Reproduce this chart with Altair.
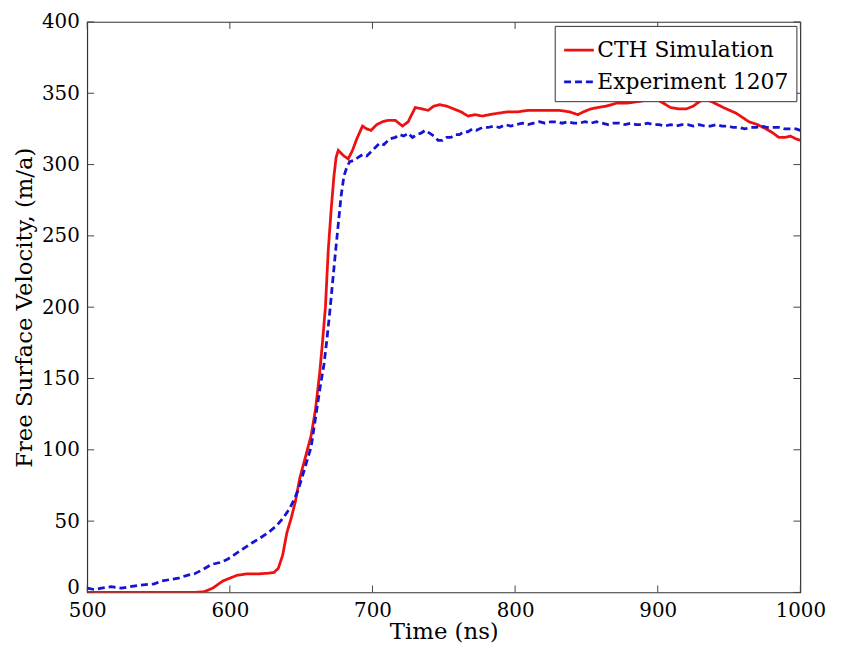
import altair as alt
import pandas as pd

# CTH Simulation (red solid)
cth_t = [500, 520, 540, 560, 575, 582, 588, 595, 600, 605, 612, 620, 627, 631, 634, 637,
         640, 643, 646, 649, 653, 657, 660, 663, 665, 667, 669, 671, 673, 674.5, 676, 678,
         680, 683, 686, 689, 693, 696, 699, 703, 707, 711, 716, 721, 725, 730, 735, 739,
         743, 747, 752, 757, 762, 767, 772, 777, 782, 788, 795, 802, 809, 816, 823, 831,
         838, 844, 848, 853, 858, 864, 871, 878, 885, 892, 899, 904, 909, 915, 920, 925,
         929, 933, 938, 946, 955, 964, 970, 976, 981, 985, 989, 993, 997, 1000]
cth_v = [0, 0, 0, 0, 0, 0.5, 3, 8, 10, 12, 13, 13, 13.5, 14, 17, 26,
         42, 52, 64, 80, 95, 110, 128, 154, 176, 200, 240, 268, 292, 305, 310, 308,
         306, 304, 310, 318, 327, 325, 324, 328, 330, 331, 331, 327, 330, 340, 339, 338,
         341, 342, 341, 339, 337, 334, 335, 334, 335, 336, 337, 337, 338, 338, 338, 338,
         337, 335, 337, 339, 340, 341, 343, 343, 344, 345, 346, 343, 340, 339, 339, 341,
         344, 346, 344, 340, 336, 330, 328, 325, 322, 319, 319, 320, 318, 317]

# Experiment 1207 (blue dashed)
exp_t = [500, 505, 510, 517, 524, 530, 536, 541, 547, 552, 558, 564, 570, 575, 581, 587,
         593, 598, 604, 610, 616, 621, 627, 633, 638, 642, 645, 648, 651, 654, 657, 660,
         663, 666, 668, 670, 672, 674, 676, 678, 680, 682, 684, 687, 690, 693, 696, 699,
         702, 705, 708, 712, 716, 719, 722, 725, 728, 731, 734, 737, 740, 743, 746, 749,
         752, 755, 758, 761, 764, 767, 770, 773, 777, 781, 785, 789, 793, 797, 801, 805,
         809, 813, 817, 821, 825, 829, 833, 837, 841, 845, 849, 853, 857, 861, 865, 869,
         873, 877, 881, 885, 889, 893, 897, 901, 905, 909, 913, 917, 921, 925, 929, 933,
         937, 941, 945, 949, 953, 957, 961, 965, 969, 973, 977, 981, 985, 989, 993, 997, 1000]
exp_v = [3, 2, 3, 4, 3, 4, 5, 5.5, 6, 8, 9, 10, 12, 13, 16, 19.6,
         21, 23, 27, 31, 35, 38, 42, 47, 53, 59, 65, 72, 82, 92, 102, 122,
         142, 160, 177, 196, 217, 238, 258, 278, 292, 298, 302, 303, 305, 307, 306, 309,
         312, 315, 314, 318, 319, 321, 320, 322, 319, 321, 322, 324, 322, 320, 317, 317,
         319, 319, 321, 321, 323, 323, 325, 324, 326, 326, 327, 326, 328, 327, 328, 329,
         328, 329, 330, 329, 330, 330, 329, 330, 329, 329, 330, 329, 330, 329, 328, 329,
         329, 328, 329, 328, 328, 329, 328, 328, 327, 328, 327, 328, 328, 327, 328, 327,
         327, 328, 327, 327, 326, 326, 325, 326, 326, 327, 326, 326, 326, 325, 325, 325, 324]

series_names = ["CTH Simulation", "Experiment 1207"]
x_ticks = [500, 600, 700, 800, 900, 1000]
y_ticks = [0, 50, 100, 150, 200, 250, 300, 350, 400]

df = pd.concat([
    pd.DataFrame({"t": cth_t, "v": cth_v, "series": series_names[0]}),
    pd.DataFrame({"t": exp_t, "v": exp_v, "series": series_names[1]}),
])
xt = pd.DataFrame({"t": x_ticks})
yt = pd.DataFrame({"v": y_ticks})

W, H = 720, 576
FONT = "DejaVu Serif"

xscale = alt.Scale(domain=[500, 1000], nice=False, zero=False)
yscale = alt.Scale(domain=[0, 400], nice=False)

axis_style = dict(ticks=False, domain=False, grid=False, format="d",
                  labelFont=FONT, labelFontSize=20, labelColor="black",
                  titleFont=FONT, titleFontSize=23, titleColor="black",
                  titleFontWeight="normal")

lines = alt.Chart(df).mark_line(strokeWidth=2.8, clip=True).encode(
    x=alt.X("t:Q", scale=xscale, title="Time (ns)",
            axis=alt.Axis(values=x_ticks, labelFlush=False, labelPadding=8,
                          titlePadding=1, **axis_style)),
    y=alt.Y("v:Q", scale=yscale, title="Free Surface Velocity, (m/a)",
            axis=alt.Axis(values=y_ticks, labelPadding=8, titlePadding=5,
                          labelOffset={"condition": {"test": "datum.value == 0", "value": -5},
                                       "value": 0},
                          **axis_style)),
    color=alt.Color("series:N",
                    scale=alt.Scale(domain=series_names, range=["#ee1111", "#1414d2"]),
                    legend=alt.Legend(title=None, orient="top-right", offset=4,
                                      symbolType="stroke", symbolSize=900,
                                      symbolStrokeWidth=2.8, labelFontSize=22,
                                      labelFont=FONT, labelColor="black", labelLimit=400,
                                      fillColor="white", strokeColor="#333",
                                      padding=8, rowPadding=4, labelOffset=2)),
    strokeDash=alt.StrokeDash("series:N",
                              scale=alt.Scale(domain=series_names, range=[[1, 0], [7, 4]]),
                              legend=alt.Legend(title=None)),
    order=alt.Order("t:Q"),
)

tick_color = "#444"
bx = alt.Chart(xt).mark_rule(color=tick_color, strokeWidth=1).encode(
    x=alt.X("t:Q", scale=xscale), y=alt.value(H), y2=alt.value(H - 7))
tx = alt.Chart(xt).mark_rule(color=tick_color, strokeWidth=1).encode(
    x=alt.X("t:Q", scale=xscale), y=alt.value(0), y2=alt.value(7))
ly = alt.Chart(yt).mark_rule(color=tick_color, strokeWidth=1).encode(
    y=alt.Y("v:Q", scale=yscale), x=alt.value(0), x2=alt.value(7))
ry = alt.Chart(yt).mark_rule(color=tick_color, strokeWidth=1).encode(
    y=alt.Y("v:Q", scale=yscale), x=alt.value(W), x2=alt.value(W - 7))

chart = alt.layer(bx, tx, ly, ry, lines).properties(
    width=W, height=H,
    autosize=alt.AutoSizeParams(type="none"),
    padding={"left": 80, "top": 11, "right": 36, "bottom": 50},
    background="white",
).configure_view(stroke="#333", strokeWidth=1.2)

chart.save("out.html", embed_options={"renderer": "svg", "actions": False})
